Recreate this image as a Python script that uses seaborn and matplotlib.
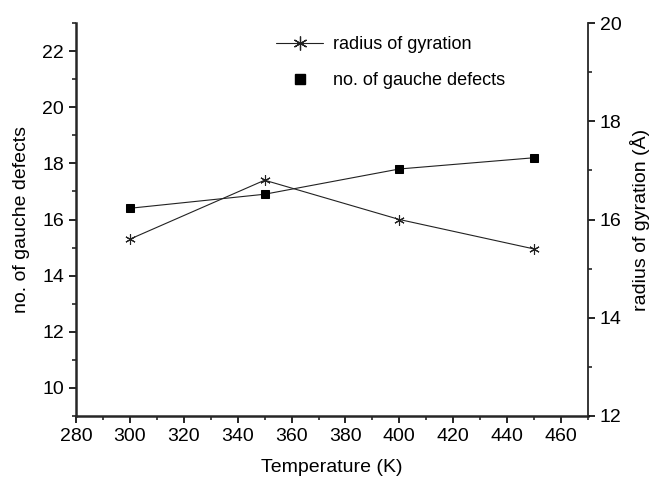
import matplotlib
matplotlib.use("Agg")
import matplotlib.pyplot as plt
import seaborn as sns
import pandas as pd
from matplotlib.ticker import MultipleLocator
from matplotlib.lines import Line2D

sns.set_theme(style="ticks")
plt.rcParams['font.family'] = ['Liberation Sans', 'DejaVu Sans']
plt.rcParams['text.color'] = 'black'
plt.rcParams['axes.labelcolor'] = 'black'

temperature = [300, 350, 400, 450]
gauche_defects = [16.4, 16.9, 17.8, 18.2]
radius_gyration = [15.6, 16.8, 16.0, 15.4]

df = pd.DataFrame({"T": temperature, "gauche": gauche_defects, "rg": radius_gyration})

fig = plt.figure(figsize=(6.5, 4.78), dpi=100)
ax = fig.add_axes([76/650, 1-416/478, (588-76)/650, (416-23)/478])
ax2 = ax.twinx()

sns.lineplot(data=df, x="T", y="gauche", ax=ax, color="#222222", lw=0.8,
             marker="s", markersize=5.5, markeredgecolor="black", markerfacecolor="black")
sns.lineplot(data=df, x="T", y="rg", ax=ax2, color="#222222", lw=0.8,
             marker=(6, 2, 0), markersize=7.5, markeredgecolor="#222222", markeredgewidth=0.8)

ax.set_xlim(280, 470)
ax.set_ylim(9, 23)
ax2.set_ylim(12, 20)
ax.xaxis.set_major_locator(MultipleLocator(20))
ax.xaxis.set_minor_locator(MultipleLocator(10))
ax.yaxis.set_major_locator(MultipleLocator(2))
ax.yaxis.set_minor_locator(MultipleLocator(1))
ax2.yaxis.set_major_locator(MultipleLocator(2))
ax2.yaxis.set_minor_locator(MultipleLocator(1))

for a in (ax, ax2):
    a.spines['top'].set_visible(False)
    a.tick_params(which='major', length=5, width=1.2, labelsize=14, colors='black', direction='out')
    a.tick_params(which='minor', length=3, width=1.2, direction='out')
ax.spines['left'].set_linewidth(1.8)
ax.spines['bottom'].set_linewidth(1.8)
ax.spines['right'].set_visible(False)
ax2.spines['left'].set_visible(False)
ax2.spines['bottom'].set_visible(False)
ax2.spines['right'].set_linewidth(1.3)

ax.set_xlabel("Temperature (K)", fontsize=14, labelpad=10)
ax.set_ylabel("no. of gauche defects", fontsize=14, labelpad=9)
ax2.set_ylabel("radius of gyration (Å)", fontsize=14, labelpad=6)

handles = [
    Line2D([], [], color="#222222", lw=0.8, marker=(6, 2, 0), markersize=10,
           markeredgecolor="#222222", markeredgewidth=0.9),
    Line2D([], [], color="none", marker="s", markersize=6.5,
           markerfacecolor="black", markeredgecolor="black"),
]
ax2.legend(handles, ["radius of gyration", "no. of gauche defects"],
           loc="upper left", bbox_to_anchor=(267/650, 1-27/478),
           bbox_transform=fig.transFigure, frameon=False, fontsize=13,
           handlelength=2.6, handletextpad=0.55, labelspacing=1.05, borderpad=0,
           labelcolor='black')

fig.savefig("out.png", dpi=100)
